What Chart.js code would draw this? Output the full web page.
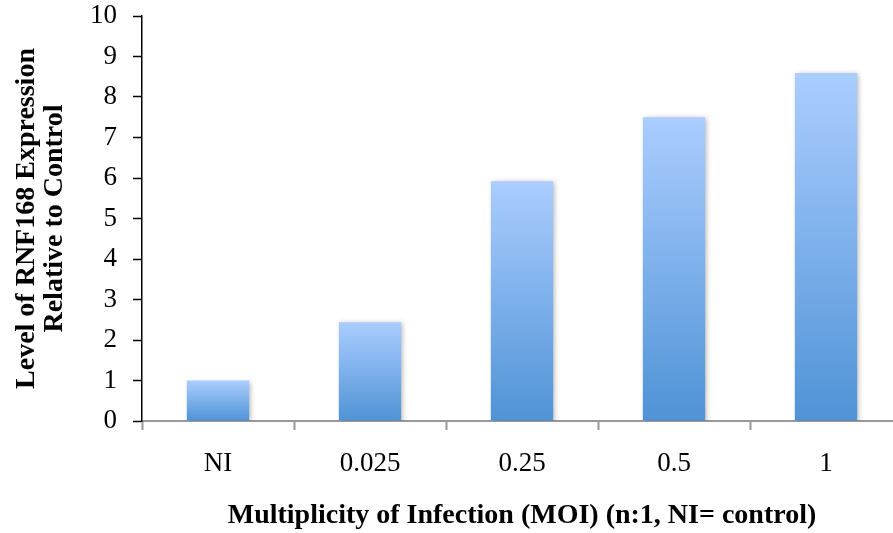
<!DOCTYPE html>
<html>
<head>
<meta charset="utf-8">
<script src="https://cdn.jsdelivr.net/npm/chart.js@4/dist/chart.umd.min.js"></script>
<style>
  html, body { margin: 0; padding: 0; background: #fff; overflow: hidden; }
  #wrap { width: 903px; height: 533px; }
</style>
</head>
<body>
<div id="wrap"><canvas id="c" width="903" height="533"></canvas></div>
<script>
// RNF168 expression relative to control, by multiplicity of infection
const categories = ['NI', '0.025', '0.25', '0.5', '1'];
const expressionLevels = [1.0, 2.44, 5.92, 7.50, 8.59];
const yTicks = [0, 1, 2, 3, 4, 5, 6, 7, 8, 9, 10];

const xTitle = 'Multiplicity of Infection (MOI) (n:1, NI= control)';
const yTitle = ['Level of RNF168 Expression', 'Relative to Control'];

const serif = '"Liberation Serif", "DejaVu Serif", serif';

// vertical gradient running the height of each bar
function barFill(ctx) {
  const chart = ctx.chart;
  const y = chart.scales && chart.scales.y;
  if (!chart.chartArea || !y || ctx.raw == null) return '#7fb0ea';
  const top = y.getPixelForValue(ctx.raw);
  const base = y.getPixelForValue(0);
  const g = chart.ctx.createLinearGradient(0, top, 0, base);
  g.addColorStop(0, '#abcdff');
  g.addColorStop(1, '#4f93d6');
  return g;
}

// soft drop shadow beneath the bars
const barShadow = {
  id: 'barShadow',
  beforeDatasetsDraw(chart) {
    const c = chart.ctx;
    c.save();
    c.shadowColor = 'rgba(0,0,0,0.28)';
    c.shadowBlur = 5;
    c.shadowOffsetX = 2;
    c.shadowOffsetY = 1;
  },
  afterDatasetsDraw(chart) {
    chart.ctx.restore();
  }
};

new Chart(document.getElementById('c'), {
  type: 'bar',
  data: {
    labels: categories,
    datasets: [{
      data: expressionLevels,
      backgroundColor: barFill,
      borderWidth: 0,
      categoryPercentage: 1,
      barPercentage: 0.41
    }]
  },
  options: {
    responsive: false,
    animation: false,
    devicePixelRatio: 1,
    layout: { padding: { top: 16, right: 1, left: 0, bottom: 0 } },
    plugins: {
      legend: { display: false },
      tooltip: { enabled: false }
    },
    scales: {
      x: {
        grid: {
          drawOnChartArea: false,
          drawTicks: true,
          tickLength: 9,
          tickWidth: 2,
          tickColor: '#999999',
          offset: true
        },
        border: { display: true, color: '#999999', width: 2 },
        ticks: {
          color: '#000',
          padding: 18,
          font: { family: serif, size: 27 }
        },
        title: {
          display: true,
          text: xTitle,
          color: '#000',
          padding: { top: 14, bottom: 0 },
          font: { family: serif, size: 28, weight: 'bold' }
        },
        afterFit(scale) { scale.height = 112; }
      },
      y: {
        min: 0,
        max: 10,
        afterBuildTicks(scale) { scale.ticks = yTicks.map(v => ({ value: v })); },
        grid: {
          drawOnChartArea: false,
          drawTicks: true,
          tickLength: 9,
          tickWidth: 1.5,
          tickColor: '#000'
        },
        border: { display: true, color: '#000', width: 1.5 },
        ticks: {
          color: '#000',
          padding: 16,
          font: { family: serif, size: 27 }
        },
        title: {
          display: true,
          text: yTitle,
          color: '#000',
          padding: { top: 13, bottom: 0 },
          font: { family: serif, size: 28, weight: 'bold', lineHeight: 1.0 }
        },
        afterFit(scale) {
          scale.width = 142;
          scale.paddingTop = 0;
          scale.paddingBottom = 0;
        }
      }
    }
  },
  plugins: [barShadow]
});
</script>
</body>
</html>
